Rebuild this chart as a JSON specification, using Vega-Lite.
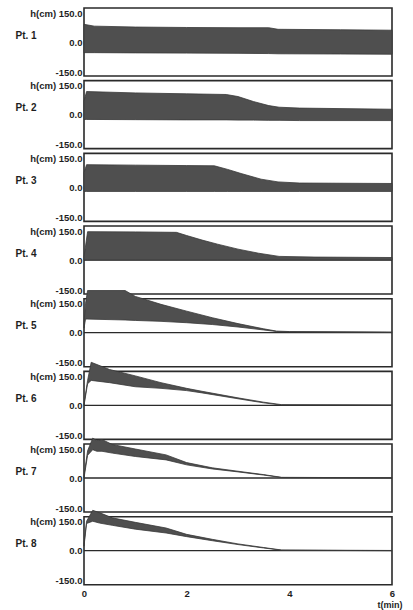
{
  "$schema": "https://vega.github.io/schema/vega-lite/v6.json",
  "padding": {"left": 14, "top": 7, "right": 4, "bottom": 2},
  "background": "white",
  "bounds": "flush",
  "spacing": 4.67,
  "datasets": {
    "waves": [
      {"pt": 1, "t": 0, "hi": 78, "lo": -47}, {"pt": 1, "t": 0.2, "hi": 70, "lo": -47}, {"pt": 1, "t": 1, "hi": 66, "lo": -48}, {"pt": 1, "t": 2, "hi": 64, "lo": -49}, {"pt": 1, "t": 3, "hi": 63, "lo": -50}, {"pt": 1, "t": 3.6, "hi": 63, "lo": -51}, {"pt": 1, "t": 3.78, "hi": 56, "lo": -52}, {"pt": 1, "t": 5, "hi": 54, "lo": -53}, {"pt": 1, "t": 6, "hi": 52, "lo": -54},
      {"pt": 2, "t": 0, "hi": 60, "lo": -21}, {"pt": 2, "t": 0.05, "hi": 102, "lo": -21}, {"pt": 2, "t": 1, "hi": 96, "lo": -22}, {"pt": 2, "t": 2, "hi": 92, "lo": -23}, {"pt": 2, "t": 2.77, "hi": 89, "lo": -23}, {"pt": 2, "t": 3.0, "hi": 80, "lo": -24}, {"pt": 2, "t": 3.3, "hi": 58, "lo": -24}, {"pt": 2, "t": 3.6, "hi": 40, "lo": -25}, {"pt": 2, "t": 3.8, "hi": 33, "lo": -25}, {"pt": 2, "t": 4.2, "hi": 29, "lo": -26}, {"pt": 2, "t": 6, "hi": 24, "lo": -26},
      {"pt": 3, "t": 0, "hi": 65, "lo": -18}, {"pt": 3, "t": 0.05, "hi": 100, "lo": -18}, {"pt": 3, "t": 1, "hi": 98, "lo": -18}, {"pt": 3, "t": 2, "hi": 96, "lo": -18}, {"pt": 3, "t": 2.54, "hi": 95, "lo": -18}, {"pt": 3, "t": 2.8, "hi": 79, "lo": -18}, {"pt": 3, "t": 3.06, "hi": 61, "lo": -18}, {"pt": 3, "t": 3.45, "hi": 36, "lo": -18}, {"pt": 3, "t": 3.78, "hi": 24, "lo": -18}, {"pt": 3, "t": 4.2, "hi": 19, "lo": -18}, {"pt": 3, "t": 6, "hi": 17, "lo": -18},
      {"pt": 4, "t": 0, "hi": 15, "lo": 0}, {"pt": 4, "t": 0.07, "hi": 125, "lo": 0}, {"pt": 4, "t": 1, "hi": 124, "lo": 0}, {"pt": 4, "t": 1.8, "hi": 122, "lo": 0}, {"pt": 4, "t": 2.0, "hi": 108, "lo": 0}, {"pt": 4, "t": 2.3, "hi": 88, "lo": 0}, {"pt": 4, "t": 2.6, "hi": 70, "lo": 0}, {"pt": 4, "t": 3.0, "hi": 48, "lo": 0}, {"pt": 4, "t": 3.4, "hi": 30, "lo": 0}, {"pt": 4, "t": 3.8, "hi": 16, "lo": 0}, {"pt": 4, "t": 4.5, "hi": 13, "lo": 0}, {"pt": 4, "t": 6, "hi": 11, "lo": 0},
      {"pt": 5, "t": 0, "hi": 40, "lo": 20}, {"pt": 5, "t": 0.03, "hi": 130, "lo": 60}, {"pt": 5, "t": 0.07, "hi": 186, "lo": 60}, {"pt": 5, "t": 0.8, "hi": 186, "lo": 56}, {"pt": 5, "t": 1.0, "hi": 160, "lo": 54}, {"pt": 5, "t": 1.5, "hi": 125, "lo": 50}, {"pt": 5, "t": 2.0, "hi": 95, "lo": 44}, {"pt": 5, "t": 2.5, "hi": 66, "lo": 36}, {"pt": 5, "t": 3.0, "hi": 40, "lo": 25}, {"pt": 5, "t": 3.5, "hi": 17, "lo": 12}, {"pt": 5, "t": 3.75, "hi": 7, "lo": 5}, {"pt": 5, "t": 4.0, "hi": 5, "lo": 3}, {"pt": 5, "t": 6, "hi": 3, "lo": 1},
      {"pt": 6, "t": 0, "hi": 5, "lo": 0}, {"pt": 6, "t": 0.07, "hi": 110, "lo": 95}, {"pt": 6, "t": 0.14, "hi": 190, "lo": 110}, {"pt": 6, "t": 0.5, "hi": 158, "lo": 100}, {"pt": 6, "t": 1.0, "hi": 130, "lo": 82}, {"pt": 6, "t": 1.5, "hi": 100, "lo": 75}, {"pt": 6, "t": 2.0, "hi": 75, "lo": 65}, {"pt": 6, "t": 2.3, "hi": 62, "lo": 55}, {"pt": 6, "t": 3.0, "hi": 33, "lo": 29}, {"pt": 6, "t": 3.5, "hi": 14, "lo": 11}, {"pt": 6, "t": 3.85, "hi": 3, "lo": 1}, {"pt": 6, "t": 6, "hi": 2, "lo": 0},
      {"pt": 7, "t": 0, "hi": 10, "lo": 0}, {"pt": 7, "t": 0.07, "hi": 120, "lo": 100}, {"pt": 7, "t": 0.17, "hi": 176, "lo": 125}, {"pt": 7, "t": 0.25, "hi": 165, "lo": 118}, {"pt": 7, "t": 0.35, "hi": 170, "lo": 118}, {"pt": 7, "t": 0.55, "hi": 148, "lo": 110}, {"pt": 7, "t": 1.0, "hi": 128, "lo": 95}, {"pt": 7, "t": 1.6, "hi": 102, "lo": 80}, {"pt": 7, "t": 2.0, "hi": 68, "lo": 58}, {"pt": 7, "t": 2.5, "hi": 45, "lo": 40}, {"pt": 7, "t": 3.0, "hi": 30, "lo": 27}, {"pt": 7, "t": 3.5, "hi": 15, "lo": 13}, {"pt": 7, "t": 3.85, "hi": 3, "lo": 2}, {"pt": 7, "t": 6, "hi": 1, "lo": 0},
      {"pt": 8, "t": 0, "hi": 30, "lo": 20}, {"pt": 8, "t": 0.05, "hi": 130, "lo": 120}, {"pt": 8, "t": 0.17, "hi": 178, "lo": 130}, {"pt": 8, "t": 0.3, "hi": 168, "lo": 122}, {"pt": 8, "t": 0.55, "hi": 145, "lo": 112}, {"pt": 8, "t": 1.0, "hi": 125, "lo": 95}, {"pt": 8, "t": 1.6, "hi": 100, "lo": 78}, {"pt": 8, "t": 2.0, "hi": 72, "lo": 62}, {"pt": 8, "t": 2.5, "hi": 50, "lo": 44}, {"pt": 8, "t": 3.0, "hi": 30, "lo": 27}, {"pt": 8, "t": 3.5, "hi": 14, "lo": 12}, {"pt": 8, "t": 3.85, "hi": 3, "lo": 2}, {"pt": 8, "t": 6, "hi": 1, "lo": 0}
    ],
    "zero": [{"h": 0}]
  },
  "vconcat": [
    {"width": 308, "height": 68, "layer": [
      {"data": {"name": "zero"}, "mark": {"type": "rule", "color": "#2a2a2a", "strokeWidth": 1.3}, "encoding": {"y": {"field": "h", "type": "quantitative"}}},
      {"data": {"name": "waves"}, "transform": [{"filter": "datum.pt == 1"}], "mark": {"type": "area", "clip": false, "color": "#4f4f4f", "stroke": "#383838", "strokeWidth": 0.8}, "encoding": {"x": {"field": "t", "type": "quantitative", "scale": {"domain": [0, 6], "nice": false}, "axis": null}, "y": {"field": "hi", "type": "quantitative", "scale": {"domain": [-150, 150], "nice": false, "zero": false}, "axis": {"values": [-150, 0, 150], "tickCount": 5, "labelExpr": "datum.value == 150 ? 'h(cm) 150.0' : (datum.value == 0 ? '0.0' : '-150.0')", "labelBaseline": {"condition": {"test": "datum.value == 150", "value": "top"}, "value": "middle"}, "labelOffset": {"condition": {"test": "datum.value == -150", "value": -4}, "value": 0}, "title": "Pt. 1"}}, "y2": {"field": "lo"}}}
    ]},
    {"width": 308, "height": 68, "layer": [
      {"data": {"name": "zero"}, "mark": {"type": "rule", "color": "#2a2a2a", "strokeWidth": 1.3}, "encoding": {"y": {"field": "h", "type": "quantitative"}}},
      {"data": {"name": "waves"}, "transform": [{"filter": "datum.pt == 2"}], "mark": {"type": "area", "clip": false, "color": "#4f4f4f", "stroke": "#383838", "strokeWidth": 0.8}, "encoding": {"x": {"field": "t", "type": "quantitative", "scale": {"domain": [0, 6], "nice": false}, "axis": null}, "y": {"field": "hi", "type": "quantitative", "scale": {"domain": [-150, 150], "nice": false, "zero": false}, "axis": {"values": [-150, 0, 150], "tickCount": 5, "labelExpr": "datum.value == 150 ? 'h(cm) 150.0' : (datum.value == 0 ? '0.0' : '-150.0')", "labelBaseline": {"condition": {"test": "datum.value == 150", "value": "top"}, "value": "middle"}, "labelOffset": {"condition": {"test": "datum.value == -150", "value": -4}, "value": 0}, "title": "Pt. 2"}}, "y2": {"field": "lo"}}}
    ]},
    {"width": 308, "height": 68, "layer": [
      {"data": {"name": "zero"}, "mark": {"type": "rule", "color": "#2a2a2a", "strokeWidth": 1.3}, "encoding": {"y": {"field": "h", "type": "quantitative"}}},
      {"data": {"name": "waves"}, "transform": [{"filter": "datum.pt == 3"}], "mark": {"type": "area", "clip": false, "color": "#4f4f4f", "stroke": "#383838", "strokeWidth": 0.8}, "encoding": {"x": {"field": "t", "type": "quantitative", "scale": {"domain": [0, 6], "nice": false}, "axis": null}, "y": {"field": "hi", "type": "quantitative", "scale": {"domain": [-150, 150], "nice": false, "zero": false}, "axis": {"values": [-150, 0, 150], "tickCount": 5, "labelExpr": "datum.value == 150 ? 'h(cm) 150.0' : (datum.value == 0 ? '0.0' : '-150.0')", "labelBaseline": {"condition": {"test": "datum.value == 150", "value": "top"}, "value": "middle"}, "labelOffset": {"condition": {"test": "datum.value == -150", "value": -4}, "value": 0}, "title": "Pt. 3"}}, "y2": {"field": "lo"}}}
    ]},
    {"width": 308, "height": 68, "layer": [
      {"data": {"name": "zero"}, "mark": {"type": "rule", "color": "#2a2a2a", "strokeWidth": 1.3}, "encoding": {"y": {"field": "h", "type": "quantitative"}}},
      {"data": {"name": "waves"}, "transform": [{"filter": "datum.pt == 4"}], "mark": {"type": "area", "clip": false, "color": "#4f4f4f", "stroke": "#383838", "strokeWidth": 0.8}, "encoding": {"x": {"field": "t", "type": "quantitative", "scale": {"domain": [0, 6], "nice": false}, "axis": null}, "y": {"field": "hi", "type": "quantitative", "scale": {"domain": [-150, 150], "nice": false, "zero": false}, "axis": {"values": [-150, 0, 150], "tickCount": 5, "labelExpr": "datum.value == 150 ? 'h(cm) 150.0' : (datum.value == 0 ? '0.0' : '-150.0')", "labelBaseline": {"condition": {"test": "datum.value == 150", "value": "top"}, "value": "middle"}, "labelOffset": {"condition": {"test": "datum.value == -150", "value": -4}, "value": 0}, "title": "Pt. 4"}}, "y2": {"field": "lo"}}}
    ]},
    {"width": 308, "height": 68, "layer": [
      {"data": {"name": "zero"}, "mark": {"type": "rule", "color": "#2a2a2a", "strokeWidth": 1.3}, "encoding": {"y": {"field": "h", "type": "quantitative"}}},
      {"data": {"name": "waves"}, "transform": [{"filter": "datum.pt == 5"}], "mark": {"type": "area", "clip": false, "color": "#4f4f4f", "stroke": "#383838", "strokeWidth": 0.8}, "encoding": {"x": {"field": "t", "type": "quantitative", "scale": {"domain": [0, 6], "nice": false}, "axis": null}, "y": {"field": "hi", "type": "quantitative", "scale": {"domain": [-150, 150], "nice": false, "zero": false}, "axis": {"values": [-150, 0, 150], "tickCount": 5, "labelExpr": "datum.value == 150 ? 'h(cm) 150.0' : (datum.value == 0 ? '0.0' : '-150.0')", "labelBaseline": {"condition": {"test": "datum.value == 150", "value": "top"}, "value": "middle"}, "labelOffset": {"condition": {"test": "datum.value == -150", "value": -4}, "value": 0}, "title": "Pt. 5"}}, "y2": {"field": "lo"}}}
    ]},
    {"width": 308, "height": 68, "layer": [
      {"data": {"name": "zero"}, "mark": {"type": "rule", "color": "#2a2a2a", "strokeWidth": 1.3}, "encoding": {"y": {"field": "h", "type": "quantitative"}}},
      {"data": {"name": "waves"}, "transform": [{"filter": "datum.pt == 6"}], "mark": {"type": "area", "clip": false, "color": "#4f4f4f", "stroke": "#383838", "strokeWidth": 0.8}, "encoding": {"x": {"field": "t", "type": "quantitative", "scale": {"domain": [0, 6], "nice": false}, "axis": null}, "y": {"field": "hi", "type": "quantitative", "scale": {"domain": [-150, 150], "nice": false, "zero": false}, "axis": {"values": [-150, 0, 150], "tickCount": 5, "labelExpr": "datum.value == 150 ? 'h(cm) 150.0' : (datum.value == 0 ? '0.0' : '-150.0')", "labelBaseline": {"condition": {"test": "datum.value == 150", "value": "top"}, "value": "middle"}, "labelOffset": {"condition": {"test": "datum.value == -150", "value": -4}, "value": 0}, "title": "Pt. 6"}}, "y2": {"field": "lo"}}}
    ]},
    {"width": 308, "height": 68, "layer": [
      {"data": {"name": "zero"}, "mark": {"type": "rule", "color": "#2a2a2a", "strokeWidth": 1.3}, "encoding": {"y": {"field": "h", "type": "quantitative"}}},
      {"data": {"name": "waves"}, "transform": [{"filter": "datum.pt == 7"}], "mark": {"type": "area", "clip": false, "color": "#4f4f4f", "stroke": "#383838", "strokeWidth": 0.8}, "encoding": {"x": {"field": "t", "type": "quantitative", "scale": {"domain": [0, 6], "nice": false}, "axis": null}, "y": {"field": "hi", "type": "quantitative", "scale": {"domain": [-150, 150], "nice": false, "zero": false}, "axis": {"values": [-150, 0, 150], "tickCount": 5, "labelExpr": "datum.value == 150 ? 'h(cm) 150.0' : (datum.value == 0 ? '0.0' : '-150.0')", "labelBaseline": {"condition": {"test": "datum.value == 150", "value": "top"}, "value": "middle"}, "labelOffset": {"condition": {"test": "datum.value == -150", "value": -4}, "value": 0}, "title": "Pt. 7"}}, "y2": {"field": "lo"}}}
    ]},
    {"width": 308, "height": 68, "layer": [
      {"data": {"name": "zero"}, "mark": {"type": "rule", "color": "#2a2a2a", "strokeWidth": 1.3}, "encoding": {"y": {"field": "h", "type": "quantitative"}}},
      {"data": {"name": "waves"}, "transform": [{"filter": "datum.pt == 8"}], "mark": {"type": "area", "clip": false, "color": "#4f4f4f", "stroke": "#383838", "strokeWidth": 0.8}, "encoding": {"x": {"field": "t", "type": "quantitative", "scale": {"domain": [0, 6], "nice": false}, "axis": {"values": [0, 2, 4, 6], "tickCount": 6, "format": "d", "labelPadding": 4, "labelFlush": false, "title": "t(min)", "titleAlign": "right", "titleAnchor": "end", "titleFontSize": 9, "titleX": 318, "titleY": 20, "titleBaseline": "middle"}}, "y": {"field": "hi", "type": "quantitative", "scale": {"domain": [-150, 150], "nice": false, "zero": false}, "axis": {"values": [-150, 0, 150], "tickCount": 5, "labelExpr": "datum.value == 150 ? 'h(cm) 150.0' : (datum.value == 0 ? '0.0' : '-150.0')", "labelBaseline": {"condition": {"test": "datum.value == 150", "value": "top"}, "value": "middle"}, "labelOffset": {"condition": {"test": "datum.value == -150", "value": -4}, "value": 0}, "title": "Pt. 8"}}, "y2": {"field": "lo"}}}
    ]}
  ],
  "config": {
    "view": {"stroke": "#2a2a2a", "strokeWidth": 1.6},
    "axis": {"grid": false, "ticks": false, "domain": false, "labelOverlap": false, "labelBound": false, "labelFlush": false, "labelPadding": 2, "labelFont": "Liberation Sans", "labelFontWeight": "bold", "labelFontSize": 9.5, "labelColor": "#1e1e1e", "titleFont": "Liberation Sans", "titleFontWeight": "bold", "titleFontSize": 10, "titleColor": "#1e1e1e"},
    "axisY": {"titleAngle": 0, "titleAlign": "left", "titleBaseline": "middle", "titleX": -69, "titleY": 27}
  }
}
